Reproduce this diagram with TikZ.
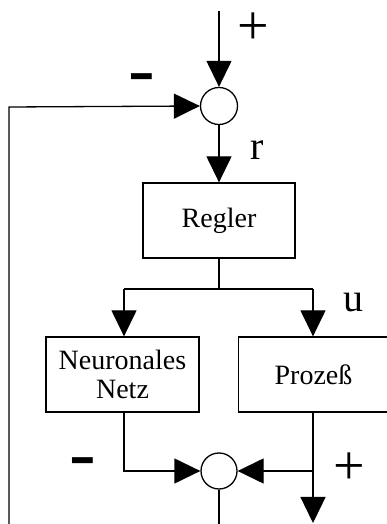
\documentclass[tikz,border=0pt]{standalone}
\usepackage{fontspec}
\setmainfont{Liberation Serif}
\usetikzlibrary{arrows.meta}
\begin{document}
\begin{tikzpicture}[x=1pt,y=1pt,
  line width=1.3pt,
  arr/.style={-{Triangle[length=26pt,width=25pt]}},
  blockbox/.style={draw, line width=1.3pt, minimum height=75pt, inner sep=0pt, align=center,
    font=\fontsize{28}{29}\selectfont},
  sumnode/.style={draw, circle, minimum size=37pt, inner sep=0pt},
  sign/.style={inner sep=0pt, font=\fontsize{56}{56}\selectfont},
  minus/.style={inner sep=0pt, font=\fontsize{80}{80}\selectfont},
  lbl/.style={inner sep=0pt, font=\fontsize{40}{40}\selectfont}]
\useasboundingbox (0,0) rectangle (387,524);
\coordinate (in) at (219,513);
\node[sumnode] (s1) at (219,418) {};
\node[blockbox, minimum width=152pt] (reg) at (219,303.5) {Regler};
\coordinate (j1) at (219,235);
\coordinate (jl) at (124,235);
\coordinate (jr) at (313,235);
\node[blockbox, minimum width=153pt] (nn) at (122.5,149.5) {Neuronales\\Netz};
\node[blockbox, minimum width=150pt] (pr) at (313.5,149.5) {Proze\ss};
\node[sumnode, minimum size=36pt] (s2) at (219,53) {};
\coordinate (nnc) at (124,53);
\coordinate (prj) at (313,53);
\coordinate (out) at (313,1);
\coordinate (fbb) at (9,-2);
\coordinate (fbt) at (9,417);
\coordinate (s2out) at (219,-2);
% top input
\draw[arr] (in) -- (s1.north);
% feedback
\draw[arr] (fbb) -- (fbt) -- (s1.west);
% to controller
\draw[arr] (s1.south) -- (reg.north);
% split
\draw (reg.south) -- (j1);
\draw (jl) -- (jr);
\draw[arr] (jl) -- (jl |- nn.north);
\draw[arr] (jr) -- (jr |- pr.north);
% bottom summation
\draw[arr] (nnc |- nn.south) -- (nnc) -- (s2.west);
\draw[arr] (prj |- pr.south) -- (out);
\draw[arr] (prj) -- (s2.east);
\draw (s2.south) -- (s2out);
% labels
\node[sign] (p1) at (253,495.5) {+};
\node[minus] (m1) at (142,439) {-};
\node[lbl] (r) at (257,374) {r};
\node[lbl] (u) at (353,221) {u};
\node[minus] (m2) at (83,55) {-};
\node[sign] (p2) at (349,55) {+};
\end{tikzpicture}
\end{document}
